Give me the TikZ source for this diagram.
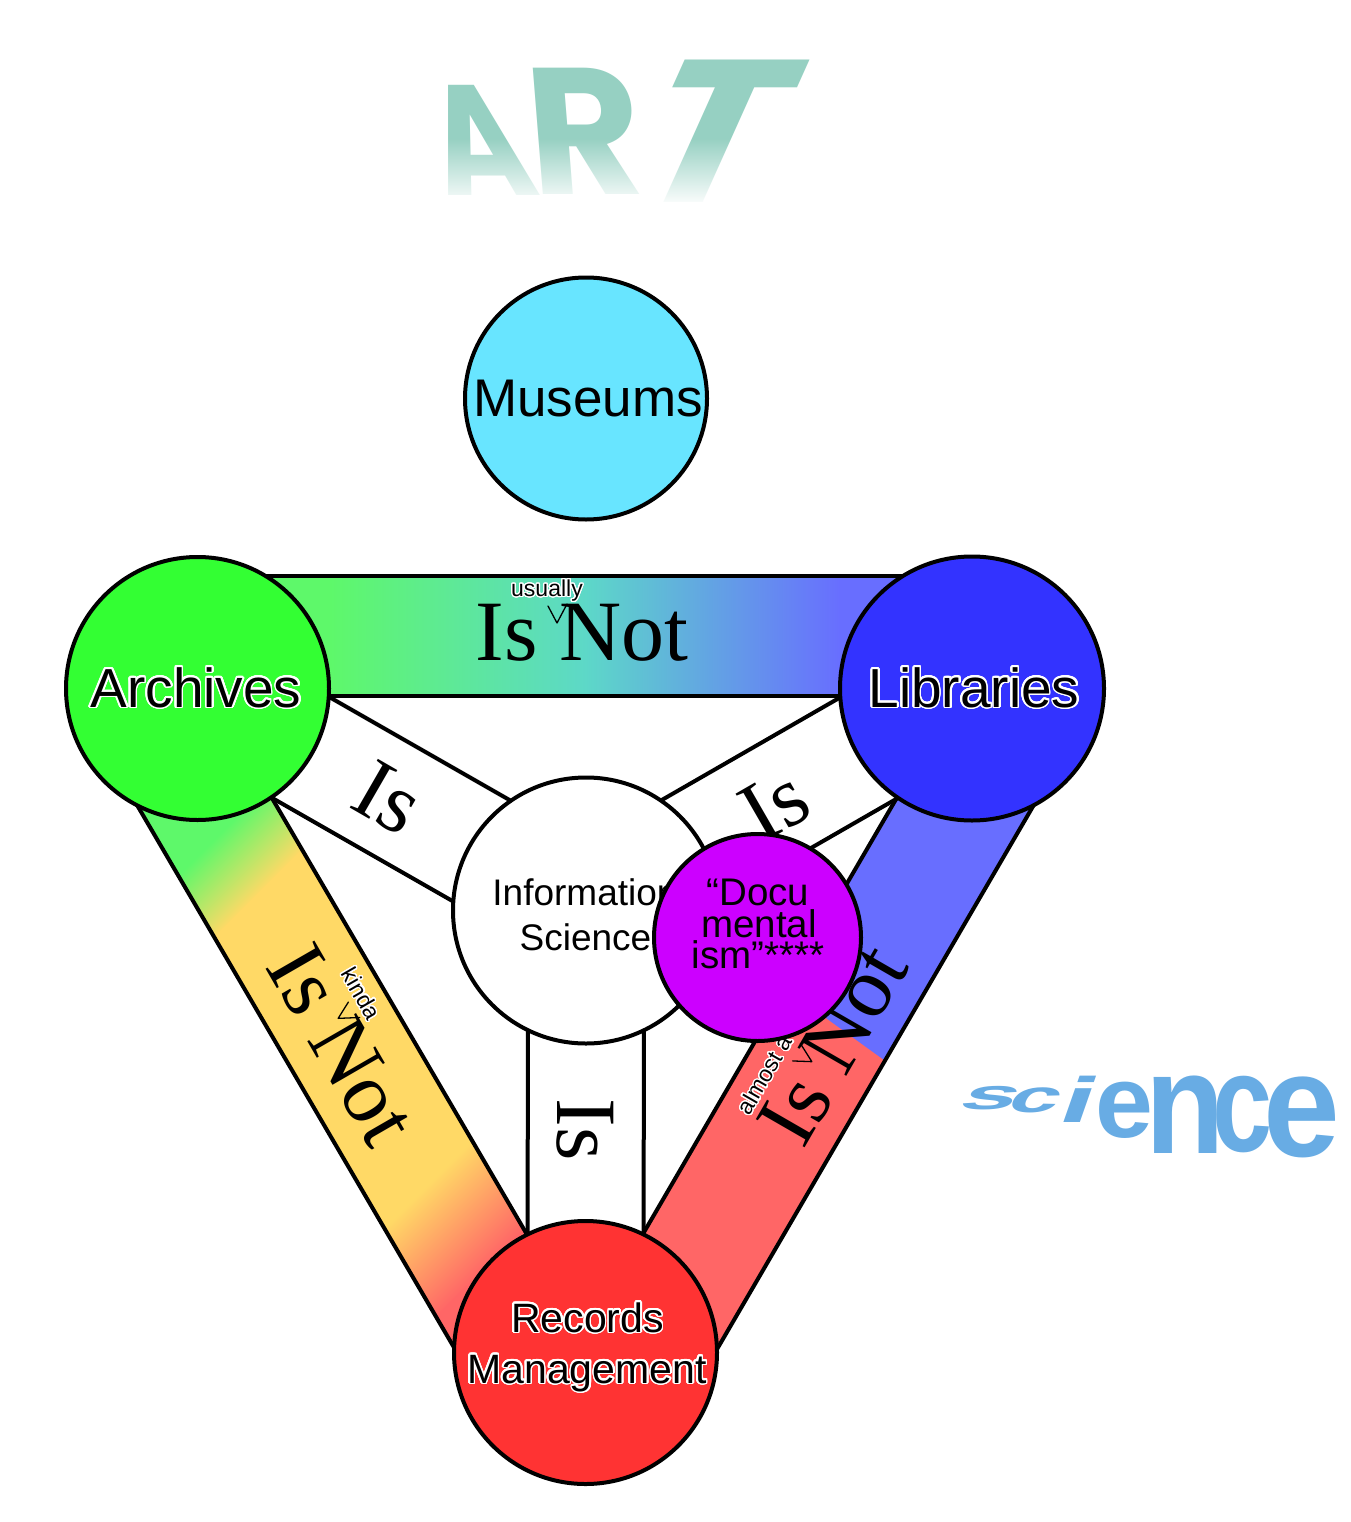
\documentclass[tikz,border=0pt]{standalone}
\usepackage{fontspec}
\usepackage[copies]{contour}
\usetikzlibrary{calc,fadings}
\newfontfamily\sansf{Liberation Sans}
\newfontfamily\seriff{Liberation Serif}
\newfontfamily\artf{Poppins}
\contourlength{1.6pt}
\contournumber{32}
\newcommand\thinhalo[1]{{\contourlength{1.2pt}\contour{white}{#1}}}
\definecolor{cArch}{RGB}{51,255,51}
\definecolor{cLib}{RGB}{51,51,255}
\definecolor{cRec}{RGB}{255,51,51}
\definecolor{cMus}{RGB}{104,229,255}
\definecolor{cDoc}{RGB}{204,0,255}
\definecolor{bGreen}{RGB}{94,248,106}
\definecolor{bTeal}{RGB}{93,216,200}
\definecolor{bBlue}{RGB}{104,110,255}
\definecolor{bYellow}{RGB}{255,217,102}
\definecolor{bRed}{RGB}{255,102,102}
\definecolor{artc}{RGB}{150,208,194}
\definecolor{scic}{RGB}{104,172,228}
\tikzfading[name=artfade, top color=transparent!100, bottom color=transparent!0]
\tikzset{
  disc/.style={circle, draw=black, line width=4pt, inner sep=0pt, minimum size=#1},
  band/.style={draw=black, line width=4pt, line join=round},
  isw/.style={font=\seriff\fontsize{86}{86}\selectfont, inner sep=0pt, text=black},
  tag/.style={font=\sansf\fontsize{23}{23}\selectfont, inner sep=0pt},
  mlab/.style={font=\sansf\fontsize{#1}{#1}\selectfont, inner sep=0pt, anchor=base},
  caret/.style={line width=1.3pt, line cap=round, line join=round},
  artl/.style={font=\artf\bfseries\fontsize{100}{100}\selectfont, text=artc, inner sep=0pt, transform shape},
  scil/.style={font=\sansf\bfseries\fontsize{100}{100}\selectfont, text=scic, inner sep=0pt, transform shape},
}
\begin{document}
\begin{tikzpicture}[x=1pt,y=-1pt]
\useasboundingbox[fill=white] (0,0) rectangle (1350,1522);
% centres
\coordinate (cM) at (586,398.5);
\coordinate (cA) at (197.5,688.5);
\coordinate (cL) at (972,688.5);
\coordinate (cR) at (585.5,1352.5);
\coordinate (cI) at (586,910.5);
\coordinate (cD) at (757.5,937.5);

% ---------- decorative ART ----------
\begin{scope}[shift={(478,140)}]
  \node[artl, xslant=-0.3, xscale=1.3, yscale=1.57] (artA) at (0,0) {A};
\end{scope}
\begin{scope}[shift={(584,131)}]
  \node[artl, xslant=-0.08, xscale=1.75, yscale=1.8] (artR) at (0,0) {R};
\end{scope}
\begin{scope}[shift={(716,131)}]
  \node[artl, xslant=0.45, xscale=2.3, yscale=2.03] (artT) at (0,0) {T};
\end{scope}
\fill[white, path fading=artfade] (400,138) rectangle (840,206);
\fill[white] (400,205) rectangle (840,215);

% ---------- decorative science ----------
\begin{scope}[shift={(991,1098)}]\node[scil, xslant=0.6, xscale=1.0, yscale=0.43] (sc1) at (0,0) {s};\end{scope}
\begin{scope}[shift={(1036,1100)}]\node[scil, xslant=0.5, xscale=0.9, yscale=0.46] (sc2) at (0,0) {c};\end{scope}
\begin{scope}[shift={(1080,1099)}]\node[scil, xslant=0.35, xscale=1.2, yscale=0.64] (sc3) at (0,0) {i};\end{scope}
\begin{scope}[shift={(1124,1110)}]\node[scil, xscale=1.04, yscale=1.03] (sc4) at (0,0) {e};\end{scope}
\begin{scope}[shift={(1185,1115)}]\node[scil, xscale=1.3, yscale=1.44] (sc5) at (0,0) {n};\end{scope}
\begin{scope}[shift={(1243,1115)}]\node[scil, xscale=1.08, yscale=1.4] (sc6) at (0,0) {c};\end{scope}
\begin{scope}[shift={(1302,1117)}]\node[scil, xscale=1.38, yscale=1.48] (sc7) at (0,0) {e};\end{scope}

% ---------- "Is Not" bands ----------
\coordinate (t1) at ($(cA)!-7pt!90:(cL)$);
\coordinate (t2) at ($(cL)!-7pt!-90:(cA)$);
\coordinate (t3) at ($(cL)!113pt!-90:(cA)$);
\coordinate (t4) at ($(cA)!113pt!90:(cL)$);
\coordinate (l1) at ($(cR)!-9pt!90:(cA)$);
\coordinate (l2) at ($(cA)!-9pt!-90:(cR)$);
\coordinate (l3) at ($(cA)!111pt!-90:(cR)$);
\coordinate (l4) at ($(cR)!111pt!90:(cA)$);
\coordinate (r1) at ($(cL)!-10pt!90:(cR)$);
\coordinate (r2) at ($(cR)!-10pt!-90:(cL)$);
\coordinate (r3) at ($(cR)!112pt!-90:(cL)$);
\coordinate (r4) at ($(cL)!112pt!90:(cR)$);

\begin{scope}
  \clip (t1) -- (t2) -- (t3) -- (t4) -- cycle;
  \fill[bGreen] (100,500) rectangle (331,760);
  \fill[bBlue] (839,500) rectangle (1100,760);
  \shade[left color=bGreen, right color=bTeal] (330,500) rectangle (586,760);
  \shade[left color=bTeal, right color=bBlue] (585,500) rectangle (840,760);
\end{scope}
\draw[band] (t1) -- (t2) -- (t3) -- (t4) -- cycle;

\begin{scope}
  \clip (l1) -- (l2) -- (l3) -- (l4) -- cycle;
  \begin{scope}[transform canvas={rotate=-45}]
    \fill[bGreen] (300,-400) rectangle (746,1300);
    \shade[left color=bGreen, right color=bYellow] (745,-400) rectangle (815,1300);
    \fill[bYellow] (814,-400) rectangle (1141,1300);
    \shade[left color=bYellow, right color=bRed] (1140,-400) rectangle (1240,1300);
    \fill[bRed] (1239,-400) rectangle (1900,1300);
  \end{scope}
\end{scope}
\draw[band] (l1) -- (l2) -- (l3) -- (l4) -- cycle;

\begin{scope}
  \clip (r1) -- (r2) -- (r3) -- (r4) -- cycle;
  \fill[bBlue] (600,500) rectangle (1200,1500);
  \fill[bRed] (200,566) -- (1400,1433) -- (1400,1600) -- (200,1600) -- cycle;
\end{scope}
\draw[band] (r1) -- (r2) -- (r3) -- (r4) -- cycle;

% ---------- "Is" bands ----------
\draw[band, fill=white] ($(cA)!58pt!90:(cI)$) -- ($(cI)!58pt!-90:(cA)$) -- ($(cI)!58pt!90:(cA)$) -- ($(cA)!58pt!-90:(cI)$) -- cycle;
\draw[band, fill=white] ($(cL)!58pt!90:(cI)$) -- ($(cI)!58pt!-90:(cL)$) -- ($(cI)!58pt!90:(cL)$) -- ($(cL)!58pt!-90:(cI)$) -- cycle;
\draw[band, fill=white] ($(cI)!58pt!90:(cR)$) -- ($(cR)!58pt!-90:(cI)$) -- ($(cR)!58pt!90:(cI)$) -- ($(cI)!58pt!-90:(cR)$) -- cycle;

\node[isw, rotate=-30] (isA) at (388,798) {Is};
\node[isw, rotate=30] (isL) at (775,805) {Is};
\node[isw, rotate=-90] (isR) at (585,1130) {Is};

% ---------- "Is Not" labels ----------
\begin{scope}[shift={(582,633)}, transform shape]
  \node[isw] (notTop) at (0,0) {Is Not};
  \node[tag] (usually) at (-35,-42) {\thinhalo{usually}};
  \draw[caret] (-34,-27) -- (-25,-10) -- (-15,-29);
\end{scope}
\begin{scope}[shift={(342,1045)}, rotate=-60, transform shape]
  \node[isw] (notLeft) at (0,0) {Is Not};
  \node[tag] (kinda) at (-35,-42) {\thinhalo{kinda}};
  \draw[caret] (-34,-27) -- (-25,-10) -- (-15,-29);
\end{scope}
\begin{scope}[shift={(833,1045)}, rotate=60, transform shape]
  \node[isw] (notRight) at (0,0) {Is Not};
  \node[tag] (almost) at (-60,-44) {\thinhalo{almost a}};
  \draw[caret] (-34,-27) -- (-25,-10) -- (-15,-29);
\end{scope}

% ---------- circles ----------
\node[disc=242pt, fill=cMus] (mus) at (cM) {};
\node[disc=263pt, fill=cArch] (arch) at (cA) {};
\node[disc=264pt, fill=cLib] (lib) at (cL) {};
\node[disc=263pt, fill=cRec] (rec) at (cR) {};
\node[disc=266pt, fill=white] (info) at (cI) {};

\node[mlab=53] (musT) at (588,416) {Museums};
\node[mlab=55] (archT) at (196,707) {\contour{white}{Archives}};
\node[mlab=55] (libT) at (974,707) {\contour{white}{Libraries}};
\node[mlab=41] (recT1) at (587.5,1332) {\contour{white}{Records}};
\node[mlab=41] (recT2) at (587,1383) {\contour{white}{Management}};
\node[mlab=37] (infoT1) at (585,905) {Information};
\node[mlab=37] (infoT2) at (585.5,950) {Science};

\node[disc=207pt, fill=cDoc] (docu) at (cD) {};
\node[mlab=38.5] (docT1) at (758,905) {“Docu};
\node[mlab=38.5] (docT2) at (759,937) {mental};
\node[mlab=38.5] (docT3) at (758,968) {ism”****};
\end{tikzpicture}
\end{document}
